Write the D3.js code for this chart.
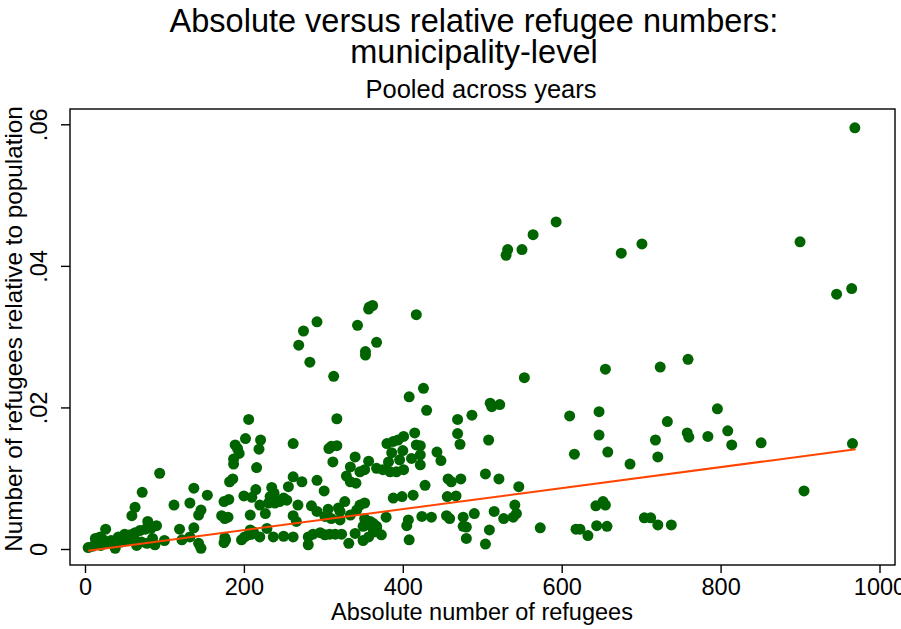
<!DOCTYPE html>
<html>
<head>
<meta charset="utf-8">
<script src="https://cdn.jsdelivr.net/npm/d3@7/dist/d3.min.js"></script>
<style>
  html, body { margin: 0; padding: 0; background: #fff; }
  svg text { font-family: "Liberation Sans", Arial, Helvetica, sans-serif; fill: #000; }
</style>
</head>
<body>
<svg id="chart" width="901" height="629"></svg>
<script>
// ---- Data ----
const titleLines = ["Absolute versus relative refugee numbers:", "municipality-level"];
const subtitle = "Pooled across years";
const xTitle = "Absolute number of refugees";
const yTitle = "Number of refugees relative to population";

const xTicks = [0, 200, 400, 600, 800, 1000];
const xTickLabels = ["0", "200", "400", "600", "800", "1000"];
const yTicks = [0, 0.02, 0.04, 0.06];
const yTickLabels = ["0", ".02", ".04", ".06"];

// absolute number of refugees
const refugeesAbs = [
  969, 530, 532, 550, 564, 593, 675, 701, 900, 946, 965, 417, 426, 408, 510, 553, 655, 724, 759,
  292, 275, 269, 283, 313, 343, 357, 362, 358, 353, 353, 367,
  206, 202, 189, 192, 194, 187,
  187, 182, 186, 175, 181, 200, 210, 172, 176, 180, 208, 176, 175, 177, 197, 201, 206, 210,
  94, 72, 63, 59, 79, 90, 26, 112, 132, 137, 154, 146, 143, 119, 137, 122, 132, 143, 146,
  4, 13, 19, 23, 29, 38, 42, 50, 57, 63, 69, 76, 83, 46, 54, 63, 71, 78, 88, 10,
  33, 60, 85, 100, 65, 20,
  430, 317, 262, 221, 219, 310, 317, 307, 312, 216, 340, 334, 329, 357, 352, 367, 346, 334, 341,
  380, 388, 394, 401, 415, 386, 400, 417, 422, 382, 396, 411, 422, 422, 375, 384, 392, 401,
  262, 273, 292, 301, 215, 235, 238, 233, 256, 250, 231, 239, 245, 254, 220, 227, 268, 285, 292,
  262, 266, 306, 302, 310, 319, 327, 321, 346, 352, 342, 334, 321, 352, 359, 363, 367, 379,
  388, 399, 413, 428, 424, 407, 405, 408, 208, 220, 237, 250, 262, 212, 229, 281, 287, 296, 302,
  308, 315, 323, 281, 332, 340, 350, 357, 363, 367, 373, 357, 350,
  512, 522, 487, 469, 469, 472, 508, 443, 448, 610, 647, 647, 616, 658, 457, 461, 473, 504, 521,
  546, 456, 467, 541, 543, 539, 515, 527, 490, 476, 476, 480, 455, 459, 436, 509, 480, 504, 573,
  618, 623, 633, 644, 657, 643, 652, 655,
  686, 733, 718, 721, 758, 760, 784, 796, 809, 814, 851, 966, 905, 704, 712, 721, 738
];
// refugees relative to population
const refugeesRel = [
  .0595, .0415, .0423, .0423, .0444, .0462, .0418, .0431, .0434, .0360, .0368, .0331, .0227, .0215, .0206, .0242, .0254, .0257, .0268,
  .0321, .0308, .0288, .0264, .0244, .0316, .0339, .0344, .0342, .0279, .0274, .0292,
  .0183, .0156, .0147, .0142, .0135, .0127,
  .0120, .0095, .0099, .0067, .0070, .0075, .0073, .0047, .0043, .0045, .0048, .0016, .0009, .0013, .0013, .0017, .0020, .0021,
  .0107, .0080, .0059, .0047, .0039, .0033, .0028, .0062, .0065, .0086, .0076, .0055, .0048, .0028, .0030, .0013, .0017, .0008, .0001,
  .0002, .0015, .0017, .0013, .0008, .0001, .0017, .0021, .0020, .0023, .0026, .0028, .0029, .0010, .0013, .0013, .0010, .0008, .0006, .0004,
  .0012, .0018, .0015, .0012, .0005, .0005,
  .0196, .0184, .0149, .0154, .0141, .0145, .0146, .0142, .0123, .0115, .0130, .0116, .0103, .0124, .0112, .0114, .0109, .0095, .0093,
  .0149, .0152, .0154, .0159, .0164, .0136, .0139, .0147, .0146, .0123, .0126, .0128, .0133, .0119, .0112, .0109, .0109, .0112,
  .0102, .0095, .0097, .0082, .0084, .0087, .0079, .0074, .0088, .0072, .0065, .0065, .0067, .0069, .0062, .0050, .0062, .0061, .0053,
  .0047, .0039, .0056, .0046, .0043, .0058, .0067, .0053, .0062, .0065, .0055, .0048, .0041, .0043, .0039, .0036, .0032, .0045,
  .0072, .0074, .0076, .0090, .0046, .0041, .0033, .0013, .0027, .0017, .0017, .0018, .0017, .0024, .0029, .0017, .0021, .0023, .0020,
  .0021, .0021, .0021, .0006, .0008, .0022, .0012, .0017, .0024, .0029, .0020, .0034, .0032,
  .0201, .0204, .0189, .0183, .0163, .0148, .0154, .0137, .0125, .0188, .0194, .0161, .0134, .0137, .0099, .0095, .0099, .0106, .0099,
  .0088, .0074, .0075, .0062, .0050, .0045, .0053, .0043, .0050, .0045, .0032, .0031, .0047, .0043, .0045, .0027, .0015, .0007, .0030,
  .0028, .0028, .0019, .0033, .0032, .0061, .0067, .0062,
  .0120, .0180, .0154, .0130, .0164, .0158, .0159, .0198, .0167, .0147, .0150, .0149, .0082, .0044, .0044, .0034, .0034
];
// fitted line end points
const fitX = [4, 970];
const fitY = [-0.00024, 0.01409];

// ---- Layout ----
const frame = { left: 70, right: 895, top: 109, bottom: 565 };
const svg = d3.select("#chart");

const x = d3.scaleLinear().domain([0, 1000]).range([85, 879.5]);
const y = d3.scaleLinear().domain([0, 0.06]).range([549, 124.3]);

// Title
svg.append("text").attr("x", 474).attr("y", 32).attr("text-anchor", "middle")
  .style("font-size", "32.5px").text(titleLines[0]);
svg.append("text").attr("x", 474).attr("y", 63).attr("text-anchor", "middle")
  .style("font-size", "32.5px").text(titleLines[1]);
svg.append("text").attr("x", 481).attr("y", 98).attr("text-anchor", "middle")
  .style("font-size", "25.5px").text(subtitle);

// Points
const pts = refugeesAbs.map((v, i) => ({ a: v, r: refugeesRel[i] }));
svg.append("g").selectAll("circle").data(pts).join("circle")
  .attr("cx", d => x(d.a)).attr("cy", d => y(d.r)).attr("r", 5.5)
  .attr("fill", "#006400");

// Fit line
const fit = fitX.map((v, i) => [v, fitY[i]]);
svg.append("path").datum(fit)
  .attr("d", d3.line().x(d => x(d[0])).y(d => y(d[1])))
  .attr("fill", "none").attr("stroke", "#ff4500").attr("stroke-width", 2);

// Frame
svg.append("rect").attr("x", frame.left).attr("y", frame.top)
  .attr("width", frame.right - frame.left).attr("height", frame.bottom - frame.top)
  .attr("fill", "none").attr("stroke", "#000").attr("stroke-width", 1.4);

// X axis
const xAxis = svg.append("g").attr("transform", `translate(0,${frame.bottom})`)
  .call(d3.axisBottom(x).tickValues(xTicks).tickFormat((d, i) => xTickLabels[i]).tickSize(8).tickPadding(5));
xAxis.select(".domain").remove();
xAxis.selectAll("line").attr("stroke", "#000").attr("stroke-width", 1.4);
xAxis.selectAll("text").style("font-size", "23.5px").attr("font-family", null);

// Y axis
const yAxis = svg.append("g").attr("transform", `translate(${frame.left},0)`)
  .call(d3.axisLeft(y).tickValues(yTicks).tickFormat((d, i) => yTickLabels[i]).tickSize(9));
yAxis.select(".domain").remove();
yAxis.selectAll("line").attr("stroke", "#000").attr("stroke-width", 1.4);
yAxis.selectAll("text")
  .attr("transform", "rotate(-90)")
  .attr("x", 0).attr("y", -23).attr("dy", 0)
  .attr("text-anchor", "middle")
  .style("font-size", "23.5px").attr("font-family", null);

// Axis titles
svg.append("text").attr("x", 482).attr("y", 620).attr("text-anchor", "middle")
  .style("font-size", "23.5px").text(xTitle);
svg.append("text").attr("transform", `translate(22,329) rotate(-90)`).attr("text-anchor", "middle")
  .style("font-size", "24.3px").text(yTitle);
</script>
</body>
</html>
